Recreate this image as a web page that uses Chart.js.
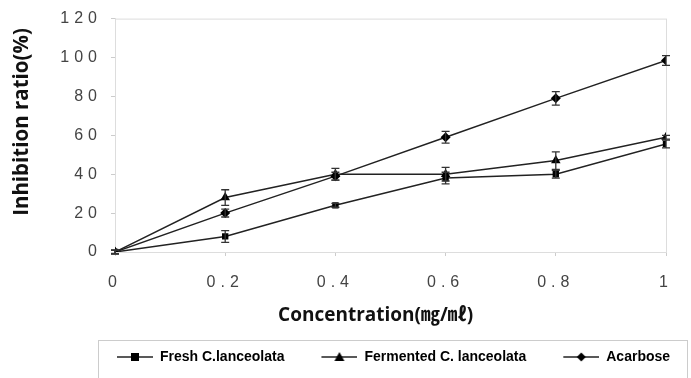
<!DOCTYPE html>
<html>
<head>
<meta charset="utf-8">
<script src="https://cdn.jsdelivr.net/npm/chart.js@4/dist/chart.umd.min.js"></script>
<style>
  html, body { margin: 0; padding: 0; background: #fff; }
  #wrap { width: 691px; height: 378px; }
</style>
</head>
<body>
<div id="wrap"><canvas id="chart" width="691" height="378"></canvas></div>
<script>
const concentrations = [0, 0.2, 0.4, 0.6, 0.8, 1]
const fresh = [0, 8, 24, 38, 40, 55.5]
const freshErr = [1, 3, 1, 3, 2, 2]
const fermented = [0, 28, 40, 40, 47, 59]
const fermentedErr = [1, 4, 3, 3.5, 4.5, 1]
const acarbose = [0, 20, 39, 59, 79, 98.5]
const acarboseErr = [1, 2, 2, 3, 3.5, 2.5]
const seriesNames = ['Fresh C.lanceolata', 'Fermented C. lanceolata', 'Acarbose']

const ink = '#222'

// tick labels in the original are spaced out
const baseDrawLabels = Chart.Scale.prototype.drawLabels
Chart.Scale.prototype.drawLabels = function(area) {
  this.ctx.save()
  this.ctx.letterSpacing = '5px'
  baseDrawLabels.call(this, area)
  this.ctx.restore()
}

// "line + marker" icon for the legend, with blank room on the left as the gap between items
const iconGap = 21
function legendIcon(style) {
  const c = document.createElement('canvas')
  c.width = iconGap + 36; c.height = 12
  const g = c.getContext('2d')
  const o = iconGap
  g.strokeStyle = ink; g.fillStyle = '#000'; g.lineWidth = 1.5
  g.beginPath(); g.moveTo(o, 6); g.lineTo(o + 36, 6); g.stroke()
  const m = o + 18
  g.beginPath()
  if (style === 'rect') g.rect(m - 4, 2, 8, 8)
  if (style === 'triangle') { g.moveTo(m, 1); g.lineTo(m + 5, 10); g.lineTo(m - 5, 10); g.closePath() }
  if (style === 'rectRot') { g.moveTo(m, 1.5); g.lineTo(m + 4.5, 6); g.lineTo(m, 10.5); g.lineTo(m - 4.5, 6); g.closePath() }
  g.fill()
  return c
}

function toPoints(ys) {
  return concentrations.map((x, i) => ({x: x, y: ys[i]}))
}

const errors = [freshErr, fermentedErr, acarboseErr]

const errorBars = {
  id: 'errorBars',
  afterDatasetsDraw(chart) {
    const ctx = chart.ctx
    const xs = chart.scales.x, ys = chart.scales.y
    ctx.save()
    ctx.strokeStyle = '#333'
    ctx.lineWidth = 1.3
    chart.data.datasets.forEach((ds, d) => {
      ds.data.forEach((p, i) => {
        const e = errors[d][i]
        const px = xs.getPixelForValue(p.x)
        const top = ys.getPixelForValue(p.y + e)
        const bot = ys.getPixelForValue(p.y - e)
        ctx.beginPath()
        ctx.moveTo(px, top); ctx.lineTo(px, bot)
        ctx.moveTo(px - 4, top); ctx.lineTo(px + 4, top)
        ctx.moveTo(px - 4, bot); ctx.lineTo(px + 4, bot)
        ctx.stroke()
      })
    })
    ctx.restore()
  }
}

const frames = {
  id: 'frames',
  afterLayout(chart) {
    // the legend sits right of the canvas centre in the original
    chart.legend.left += 50
    chart.legend.right += 50
  },
  beforeDatasetsDraw(chart) {
    const a = chart.chartArea
    const ctx = chart.ctx
    ctx.save()
    ctx.strokeStyle = '#ddd'
    ctx.lineWidth = 1
    ctx.strokeRect(a.left + 0.5, a.top + 0.5, a.right - a.left, a.bottom - a.top)
    ctx.restore()
  },
  afterDraw(chart) {
    const l = chart.legend
    const box = l.legendHitBoxes[0]
    const mid = box.top + box.height / 2
    const ctx = chart.ctx
    ctx.save()
    ctx.strokeStyle = '#ccc'
    ctx.lineWidth = 1
    ctx.strokeRect(98.5, Math.round(mid - 17) + 0.5, 589, 60)
    ctx.restore()
  }
}

const styles = ['rect', 'triangle', 'rectRot']
const values = [fresh, fermented, acarbose]
const radii = [4.5, 5.5, 5]

new Chart(document.getElementById('chart'), {
  type: 'line',
  data: {
    datasets: values.map((v, i) => ({
      label: seriesNames[i],
      data: toPoints(v),
      borderColor: ink,
      backgroundColor: '#000',
      borderWidth: 1.5,
      pointStyle: styles[i],
      pointRadius: radii[i],
      pointBackgroundColor: '#000',
      pointBorderColor: '#000',
      pointBorderWidth: 0,
      tension: 0
    }))
  },
  options: {
    responsive: false,
    animation: false,
    layout: { padding: { left: 0, right: 25, top: 17, bottom: 4 } },
    plugins: {
      tooltip: { enabled: false },
      legend: {
        position: 'bottom',
        labels: {
          usePointStyle: true,
          pointStyleWidth: iconGap + 36,
          padding: 16,
          color: '#111',
          font: { family: "'Liberation Sans', sans-serif", size: 14, weight: 'bold' },
          generateLabels: chart => chart.data.datasets.map((ds, i) => ({
            text: ds.label,
            pointStyle: legendIcon(styles[i]),
            datasetIndex: i,
            fillStyle: '#000',
            strokeStyle: ink,
            lineWidth: 0
          }))
        }
      }
    },
    scales: {
      x: {
        type: 'linear',
        min: 0, max: 1,
        afterFit: s => { s.height = 82 },
        ticks: {
          stepSize: 0.2, color: '#444', padding: 17,
          font: { family: 'Liberation Sans', size: 16 },
          callback: v => String(Math.round(v * 10) / 10)
        },
        grid: { display: true, drawOnChartArea: false, tickLength: 4, color: '#ccc' },
        border: { color: '#ddd' },
        title: {
          display: true,
          text: 'Concentration(㎎/㎖)      ',
          color: '#111',
          padding: { top: 0, bottom: 7 },
          font: { family: "'Open Sans', 'Noto Sans CJK KR', sans-serif", size: 19, weight: 'bold' }
        }
      },
      y: {
        min: 0, max: 120,
        afterFit: s => { s.width = 115 },
        ticks: { stepSize: 20, color: '#444', padding: 9, font: { family: 'Liberation Sans', size: 16 } },
        grid: { display: true, drawOnChartArea: false, tickLength: 4, color: '#ccc' },
        border: { color: '#ddd' },
        title: {
          display: true,
          text: '     Inhibition ratio(%)',
          color: '#111',
          padding: { top: 10, bottom: 0 },
          font: { family: "'Open Sans', sans-serif", size: 20.5, weight: 'bold' }
        }
      }
    }
  },
  plugins: [errorBars, frames]
})
</script>
</body>
</html>
